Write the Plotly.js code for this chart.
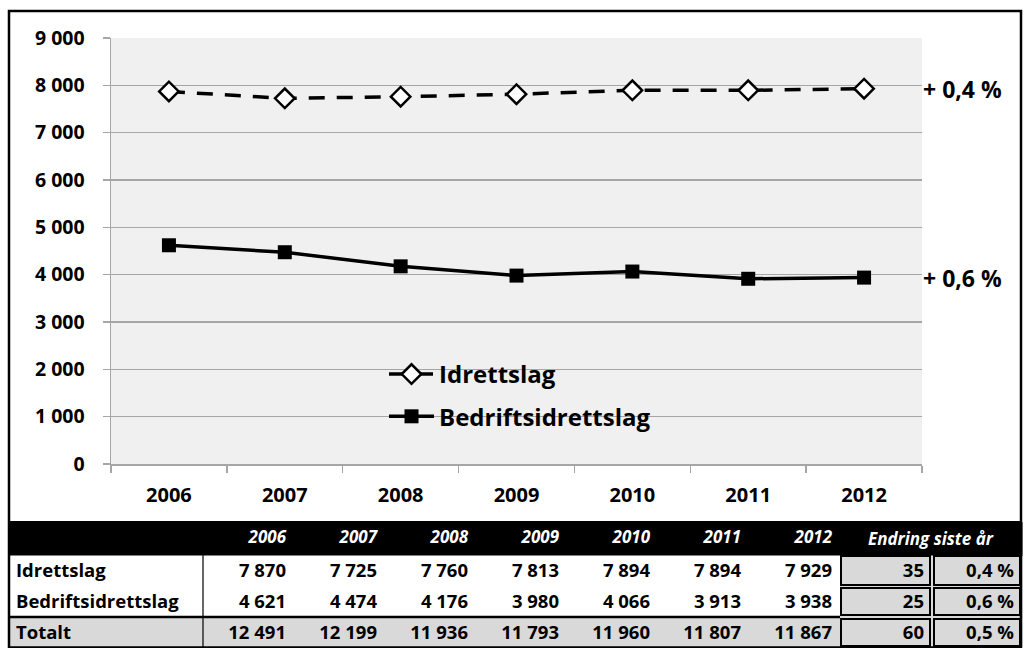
<!DOCTYPE html>
<html>
<head>
<meta charset="utf-8">
<script src="https://cdn.plot.ly/plotly-3.0.1.min.js"></script>
<style>html,body{margin:0;padding:0;background:#fff;}#chart{width:1024px;height:648px;}</style>
</head>
<body>
<div id="chart"></div>
<script>
var years = ['2006', '2007', '2008', '2009', '2010', '2011', '2012'];
var idrettslag = [7870, 7725, 7760, 7813, 7894, 7894, 7929];
var bedriftsidrettslag = [4621, 4474, 4176, 3980, 4066, 3913, 3938];
var totalt = [12491, 12199, 11936, 11793, 11960, 11807, 11867];
var rowLabels = ['Idrettslag', 'Bedriftsidrettslag', 'Totalt'];
var endringAbs = [35, 25, 60];
var endringPct = ['0,4 %', '0,6 %', '0,5 %'];
var endringHeader = 'Endring siste år';

var W = 1024, H = 648;
function px(x) { return x / W; }
function py(y) { return 1 - y / H; }
function fmt(n) { return String(n).replace(/\B(?=(\d{3})+(?!\d))/g, ' '); }

var FONT = '"Open Sans", Lato, sans-serif';
var GRID = '#a6a6a6';
var GREY = '#d9d9d9';

var traces = [
  {
    type: 'scatter', mode: 'lines+markers', name: rowLabels[0],
    x: years, y: idrettslag,
    line: {color: '#000', width: 3.5, dash: '16px,12px'},
    marker: {symbol: 'diamond', size: 15, color: '#fff', line: {color: '#000', width: 2.5}},
    legendgroup: 'a', cliponaxis: false
  },
  {
    type: 'scatter', mode: 'lines+markers', name: rowLabels[1],
    x: years, y: bedriftsidrettslag,
    line: {color: '#000', width: 3.5},
    marker: {symbol: 'square', size: 14, color: '#000', line: {color: '#000', width: 0}},
    legendgroup: 'b', cliponaxis: false
  }
];

// table
var cellVals = [rowLabels];
var cellFill = [['#fff', '#fff', GREY]];
var cellAlign = ['left'];
for (var i = 0; i < years.length; i++) {
  cellVals.push([fmt(idrettslag[i]), fmt(bedriftsidrettslag[i]), fmt(totalt[i])]);
  cellFill.push(['#fff', '#fff', GREY]);
  cellAlign.push('right');
}
cellVals.push(endringAbs.map(fmt));
cellFill.push([GREY, GREY, GREY]);
cellAlign.push('right');
cellVals.push(endringPct);
cellFill.push([GREY, GREY, GREY]);
cellAlign.push('right');

var headerVals = [''].concat(years).concat(['', '']);

traces.push({
  type: 'table',
  domain: {x: [px(8), px(1022)], y: [0, py(522)]},
  columnwidth: [195, 91, 91, 91, 91, 91, 91, 91, 92, 90],
  header: {
    values: headerVals,
    align: cellAlign,
    height: 33,
    fill: {color: '#000'},
    line: {color: '#000', width: 0.5},
    font: {family: FONT, size: 17, color: '#fff', weight: 'bold', style: 'italic'}
  },
  cells: {
    values: cellVals,
    align: cellAlign,
    height: 31,
    fill: {color: cellFill},
    line: {color: cellFill, width: 0.5},
    font: {family: FONT, size: 18.5, color: '#000', weight: 'bold'}
  }
});

var shapes = [
  // cover gridlines behind legend
  {type: 'rect', xref: 'paper', yref: 'paper', layer: 'between',
   x0: px(363), x1: px(692), y0: py(448), y1: py(345),
   fillcolor: '#f0f0f0', line: {width: 0}},
  // outer border
  {type: 'rect', xref: 'paper', yref: 'paper', layer: 'above',
   x0: px(9), x1: px(1021), y0: py(647.5), y1: py(11),
   line: {color: '#000', width: 2.5}},
  // chart / table separator
  {type: 'line', xref: 'paper', yref: 'paper', layer: 'above',
   x0: px(9), x1: px(1021), y0: py(522), y1: py(522),
   line: {color: '#000', width: 2}},
  // vertical line after label column
  {type: 'line', xref: 'paper', yref: 'paper', layer: 'above',
   x0: px(203), x1: px(203), y0: py(555), y1: py(648),
   line: {color: '#000', width: 1.2}},
  // line above Totalt
  {type: 'line', xref: 'paper', yref: 'paper', layer: 'above',
   x0: px(9), x1: px(840), y0: py(617), y1: py(617),
   line: {color: '#000', width: 2.5}}
];
// boxes around Endring cells
var colEdges = [[840, 931], [933, 1021]];
var rowEdges = [[555, 586], [587, 616], [618, 647]];
colEdges.forEach(function (c) {
  rowEdges.forEach(function (r) {
    shapes.push({type: 'rect', xref: 'paper', yref: 'paper', layer: 'above',
      x0: px(c[0] + 1), x1: px(c[1] - 1), y0: py(r[1] - 1), y1: py(r[0] + 1),
      line: {color: '#000', width: 2}});
  });
});

var annotations = [
  {xref: 'paper', yref: 'y', x: px(921), y: idrettslag[6], xanchor: 'left', yanchor: 'middle',
   text: '+ ' + endringPct[0], showarrow: false,
   font: {family: FONT, size: 23, color: '#000', weight: 'bold'}},
  {xref: 'paper', yref: 'y', x: px(921), y: bedriftsidrettslag[6], xanchor: 'left', yanchor: 'middle',
   text: '+ ' + endringPct[1], showarrow: false,
   font: {family: FONT, size: 23, color: '#000', weight: 'bold'}},
  {xref: 'paper', yref: 'paper', x: px(931), y: py(538), xanchor: 'center', yanchor: 'middle',
   text: endringHeader, showarrow: false,
   font: {family: FONT, size: 17, color: '#fff', weight: 'bold', style: 'italic'}}
];

var layout = {
  width: W, height: H,
  margin: {l: 0, r: 0, t: 0, b: 0, pad: 0},
  paper_bgcolor: '#fff',
  plot_bgcolor: '#f0f0f0',
  separators: ', ',
  font: {family: FONT, color: '#000'},
  showlegend: true,
  legend: {
    x: px(384), y: py(352), xanchor: 'left', yanchor: 'top',
    bgcolor: 'rgba(0,0,0,0)', borderwidth: 0,
    font: {family: FONT, size: 24, color: '#000', weight: 'bold'},
    itemwidth: 45, traceorder: 'grouped', tracegroupgap: 8
  },
  xaxis: {
    type: 'category', domain: [px(111), px(922)], range: [-0.5, 6.5],
    showgrid: false, zeroline: false,
    showline: true, linecolor: GRID, linewidth: 1.5,
    ticks: 'outside', tickson: 'boundaries', ticklen: 7, tickcolor: GRID, tickwidth: 1.5,
    tickfont: {family: FONT, size: 20, color: '#000', weight: 'bold'},
    ticklabelstandoff: 12, fixedrange: true
  },
  yaxis: {
    domain: [py(464), py(38)], range: [0, 9000], dtick: 1000, tickformat: ',d',
    showgrid: true, gridcolor: GRID, gridwidth: 1.5, zeroline: false,
    showline: true, linecolor: GRID, linewidth: 1.5,
    ticks: 'outside', ticklen: 7, tickcolor: GRID, tickwidth: 1.5,
    tickfont: {family: FONT, size: 19.5, color: '#000', weight: 'bold'},
    ticklabelstandoff: 14, fixedrange: true
  },
  shapes: shapes,
  annotations: annotations
};

Plotly.newPlot('chart', traces, layout, {displayModeBar: false, staticPlot: true});
</script>
</body>
</html>
